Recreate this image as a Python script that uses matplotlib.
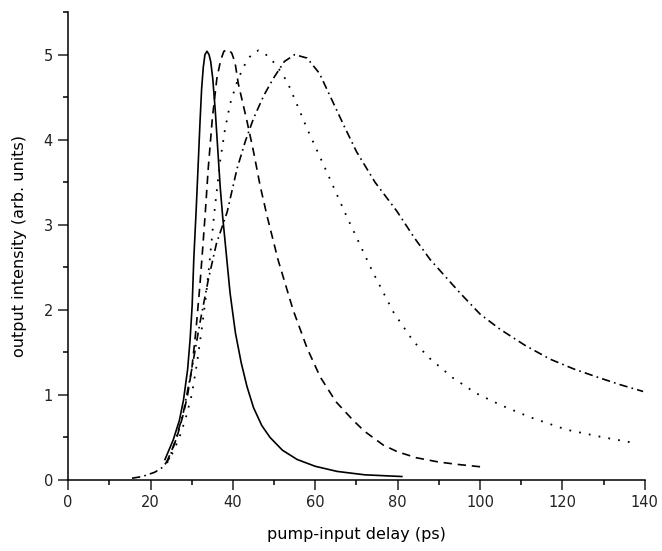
import matplotlib
matplotlib.use("Agg")
import matplotlib.pyplot as plt
from matplotlib.ticker import MultipleLocator

# delay (ps) and output intensity (arb. units)
solid_x = [23.5, 25.5, 27.0, 28.0, 29.0, 29.6, 30.1, 30.5, 31.1, 31.6, 32.0, 32.4, 32.8, 33.2,
           33.7, 34.2, 34.6, 35.1, 35.7, 36.3, 36.9, 37.5, 38.2, 39.3, 40.6, 42.0, 43.4, 45.0,
           47.0, 49.0, 52.0, 55.6, 60.0, 65.3, 72.0, 81.0]
solid_y = [0.24, 0.47, 0.70, 0.94, 1.30, 1.65, 2.05, 2.60, 3.20, 3.75, 4.20, 4.60, 4.85, 5.00,
           5.04, 5.00, 4.92, 4.72, 4.35, 3.90, 3.45, 3.10, 2.75, 2.20, 1.73, 1.38, 1.10, 0.85,
           0.64, 0.50, 0.35, 0.24, 0.16, 0.10, 0.06, 0.04]

dash_x = [23.8, 25.0, 26.5, 28.0, 29.0, 30.0, 31.0, 32.0, 32.7, 33.3, 34.0, 35.0, 36.1, 37.0,
          37.8, 38.8, 39.7, 40.5, 41.3, 42.3, 43.4, 45.0, 46.6, 48.3, 51.0, 54.6, 58.0, 61.2,
          65.0, 69.2, 72.0, 76.5, 80.0, 84.6, 90.0, 95.0, 101.0]
dash_y = [0.20, 0.33, 0.52, 0.78, 1.00, 1.30, 1.75, 2.30, 2.75, 3.15, 3.66, 4.25, 4.72, 4.93,
          5.04, 5.06, 5.02, 4.91, 4.66, 4.45, 4.22, 3.86, 3.46, 3.10, 2.58, 2.00, 1.55, 1.21,
          0.92, 0.70, 0.57, 0.41, 0.33, 0.26, 0.21, 0.18, 0.15]

dot_x = [24.0, 25.5, 27.0, 28.5, 30.0, 31.3, 32.5, 33.5, 34.2, 35.5, 36.9, 38.0, 39.3, 41.0,
         42.5, 44.0, 45.2, 46.2, 47.3, 48.5, 50.5, 53.2, 55.5, 58.0, 62.8, 67.6, 74.0, 79.0,
         83.8, 88.0, 93.4, 99.0, 105.0, 112.0, 121.0, 130.0, 138.0]
dot_y = [0.20, 0.33, 0.50, 0.72, 1.00, 1.38, 1.80, 2.18, 2.50, 3.15, 3.75, 4.10, 4.42, 4.68,
         4.85, 4.97, 5.03, 5.05, 5.03, 4.98, 4.88, 4.68, 4.42, 4.13, 3.62, 3.10, 2.44, 1.97,
         1.63, 1.42, 1.20, 1.02, 0.88, 0.74, 0.59, 0.50, 0.43]

dashdot_x = [15.5, 18.0, 21.0, 23.0, 24.5, 26.0, 28.0, 30.0, 32.0, 34.0, 36.0, 38.6, 41.0,
             43.0, 45.0, 47.5, 49.8, 52.5, 55.0, 58.0, 61.0, 64.3, 67.0, 70.0, 74.5, 79.8,
             84.0, 87.9, 95.1, 100.0, 104.9, 111.0, 117.0, 123.0, 129.0, 134.0, 139.6]
dashdot_y = [0.02, 0.04, 0.09, 0.15, 0.25, 0.45, 0.80, 1.30, 1.85, 2.35, 2.78, 3.15, 3.66,
             3.98, 4.25, 4.52, 4.72, 4.92, 5.00, 4.96, 4.78, 4.44, 4.16, 3.86, 3.50, 3.16,
             2.85, 2.59, 2.20, 1.95, 1.77, 1.58, 1.42, 1.30, 1.20, 1.12, 1.04]

x_ticks = [0, 20, 40, 60, 80, 100, 120, 140]
y_ticks = [0, 1, 2, 3, 4, 5]

fig = plt.figure(figsize=(6.62, 5.51), dpi=100)
ax = fig.add_axes([0.103, 0.129, 0.871, 0.849])

ax.plot(solid_x, solid_y, color='black', lw=1.2, ls='-')
ax.plot(dash_x, dash_y, color='black', lw=1.2, dashes=(5, 3.5))
ax.plot(dot_x, dot_y, color='black', lw=1.3, dashes=(1, 4.5))
ax.plot(dashdot_x, dashdot_y, color='black', lw=1.2, dashes=(5, 2.5, 1, 2.5))

ax.set_xlim(0, 140)
ax.set_ylim(0, 5.5)
ax.set_xticks(x_ticks)
ax.set_yticks(y_ticks)
ax.xaxis.set_minor_locator(MultipleLocator(10))
ax.yaxis.set_minor_locator(MultipleLocator(0.5))

for side in ('top', 'right'):
    ax.spines[side].set_visible(False)
for side in ('left', 'bottom'):
    ax.spines[side].set_linewidth(1.1)

ax.tick_params(which='major', direction='out', length=7, width=1.1, labelsize=10.5,
               colors='#222222', pad=4)
ax.tick_params(which='minor', direction='out', length=3.6, width=1.1)
ax.patch.set_visible(False)

ax.set_xlabel('pump-input delay (ps)', fontsize=11.5, labelpad=12)
ax.set_ylabel('output intensity (arb. units)', fontsize=11.5, labelpad=12)

plt.savefig('out.png', dpi=100)
